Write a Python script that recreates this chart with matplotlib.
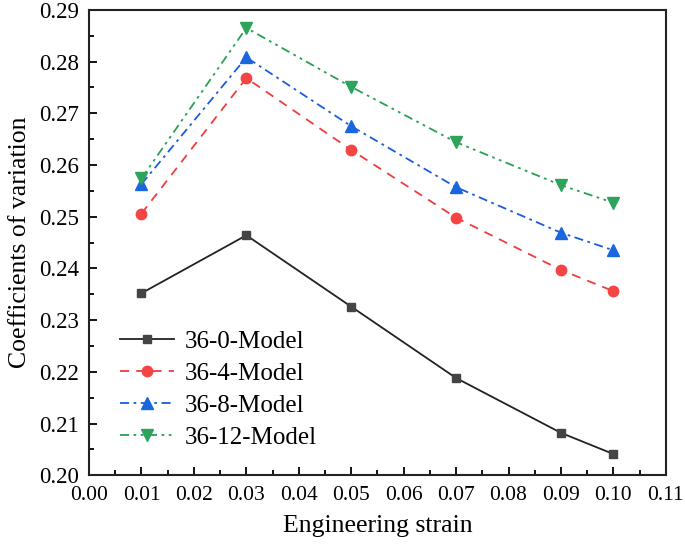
import matplotlib
matplotlib.use('Agg')
import matplotlib.pyplot as plt
import numpy as np
from matplotlib.ticker import MultipleLocator, FormatStrFormatter

plt.rcParams['font.family'] = ['Liberation Serif', 'DejaVu Serif']

# Data
strain = [0.01, 0.03, 0.05, 0.07, 0.09, 0.10]
cv_0 = [0.2352, 0.2464, 0.2326, 0.2188, 0.2082, 0.2041]
cv_4 = [0.2506, 0.2768, 0.2629, 0.2498, 0.2397, 0.2356]
cv_8 = [0.2563, 0.2808, 0.2675, 0.2557, 0.2469, 0.2435]
cv_12 = [0.2574, 0.2865, 0.2751, 0.2644, 0.2561, 0.2527]
labels = ['36-0-Model', '36-4-Model', '36-8-Model', '36-12-Model']

fig = plt.figure(figsize=(6.85, 5.45), dpi=100)
ax = fig.add_axes([0.130, 0.128, 0.842, 0.854])

ax.plot(strain, cv_0, color='#222222', lw=1.3, ls='-', marker='s', ms=6,
        mfc='#444444', mec='#444444', label=labels[0])
ax.plot(strain, cv_4, color='#f03c3c', lw=1.3, ls=(0, (5, 4)), marker='o', ms=7.5,
        mfc='#f44444', mec='#f44444', label=labels[1])
ax.plot(strain, cv_8, color='#1a5ce0', lw=1.3, ls=(0, (5, 2.5, 1.5, 2.5)), marker='^', ms=8,
        mfc='#1a66dd', mec='#1a66dd', label=labels[2])
ax.plot(strain, cv_12, color='#28a050', lw=1.3, ls=(0, (5, 2.5, 1.5, 2.5, 1.5, 2.5)), marker='v', ms=8,
        mfc='#2ea35a', mec='#2ea35a', label=labels[3])

ax.set_xlim(0.0, 0.11)
ax.set_ylim(0.20, 0.29)
ax.xaxis.set_major_locator(MultipleLocator(0.01))
ax.xaxis.set_minor_locator(MultipleLocator(0.005))
ax.yaxis.set_major_locator(MultipleLocator(0.01))
ax.yaxis.set_minor_locator(MultipleLocator(0.005))
ax.xaxis.set_major_formatter(FormatStrFormatter('%.2f'))
ax.yaxis.set_major_formatter(FormatStrFormatter('%.2f'))

ax.tick_params(which='major', direction='in', length=6, width=1.3, labelsize=15.5)
ax.tick_params(axis='y', which='major', labelsize=16.5, pad=7)
ax.tick_params(axis='x', which='major', pad=8)
ax.tick_params(which='minor', direction='in', length=3.5, width=1.3)
ax.tick_params(top=False, right=False, which='both')
for s in ax.spines.values():
    s.set_linewidth(1.5)
    s.set_color('#222222')

ax.set_xlabel('Engineering strain', fontsize=18.5, labelpad=7)
ax.set_ylabel('Coefficients of variation', fontsize=18.5, labelpad=6)

ax.legend(loc='upper left', bbox_to_anchor=(0.036, 0.333), frameon=False,
          fontsize=18, handlelength=2.16, handletextpad=0.44, labelspacing=0.38,
          borderaxespad=0.0)

fig.savefig('out.png', dpi=100)
